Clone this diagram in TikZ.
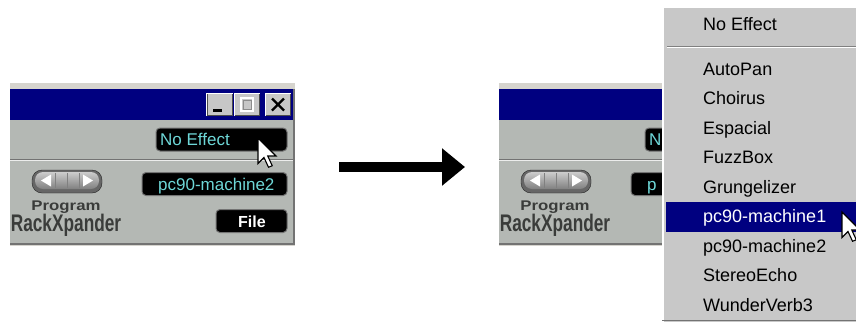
\documentclass[tikz,border=0pt]{standalone}
\usepackage{fontspec}
\usepackage{graphicx}
\setmainfont{Liberation Sans}
\usetikzlibrary{arrows.meta,positioning}

\definecolor{titleblue}{RGB}{0,0,128}
\definecolor{panelgray}{RGB}{180,184,180}
\definecolor{framegray}{RGB}{214,212,206}
\definecolor{menugray}{RGB}{200,200,200}
\definecolor{lcdcyan}{RGB}{110,215,215}
\definecolor{labelgray}{RGB}{58,60,58}

\tikzset{
  mousecursor/.pic={\draw[fill=white,line width=1.1pt,line join=miter,scale=1.5]
    (0,0) -- (0,17) -- (4,13) -- (7,19.5) -- (9.5,18.5) -- (6.5,12) -- (12,12) -- cycle;}
}

\begin{document}
\begin{tikzpicture}[x=1pt,y=-1pt,
  display/.style={fill=black, draw=black!55, line width=1pt, rounded corners=4pt,
    inner sep=0pt, minimum height=23pt},
  lcdtext/.style={anchor=base west, inner sep=0pt, text=lcdcyan,
    font=\fontsize{17}{19}\selectfont},
  winbtn/.style={fill=black!22, draw=black!70, line width=1pt, inner sep=0pt,
    minimum width=25pt, minimum height=22pt},
  panellabel/.style={anchor=base, inner sep=0pt, text=labelgray},
  menuitem/.style={anchor=base west, inner sep=0pt, font=\fontsize{18}{20}\selectfont},
  bigarrow/.style={line width=10pt, -{Triangle[length=23pt,width=36pt]}}
  ]
  \useasboundingbox (0,0) rectangle (856,322);

  % the rack window, before and after (the menu hides the right part of the second)
  \foreach \dx/\p/\eff/\patch/\file in {0/l/No Effect/pc90-machine2/File,489/r/N/p/{}}{
  \begin{scope}[xshift=\dx]
    \fill[framegray] (10,83) rectangle (295,246);
    \fill[titleblue] (10,89) rectangle (293,120);
    \fill[panelgray] (10,120) rectangle (293,243);
    \draw[black!55] (10,159) -- (293,159);
    \draw[white!75!panelgray] (10,160.5) -- (293,160.5);
    \draw[black!55,line width=1.5pt] (10,244) -- (294,244) -- (294,89);

    \node[winbtn] (\p-min) at (219.5,104.5) {};
    \node[winbtn] (\p-max) at (247,104.5) {};
    \node[winbtn] (\p-close) at (278,104.5) {};
    \foreach \b in {min,max,close}
      \draw[white] (\p-\b.south west) |- (\p-\b.north east);
    \fill (213,109) rectangle (222,112);
    \draw[white,line width=1.5pt] (241,98) rectangle (253,111);
    \draw[black!45] (243,100) rectangle (251,109);
    \draw[line width=2.2pt] (272,98.5) -- (284,110.5) (272,110.5) -- (284,98.5);

    \node[display, minimum width=131pt] (\p-noeff) at (221.5,139.5) {};
    \node[display, minimum width=145pt] (\p-patch) at (214.5,184) {};
    \node[display, minimum width=71pt] (\p-file) at (251.5,221) {};
    \node[lcdtext] (\p-efftxt) at (160,145) {\eff};
    \node[lcdtext] (\p-patchtxt) at (158,190) {\patch};
    \node[lcdtext, anchor=base, text=white, font=\fontsize{16}{18}\bfseries]
      (\p-filetxt) at (252,227) {\file};

    % program selector
    \draw[black!85,fill=black!60,rounded corners=10pt] (32,170) rectangle (102,193);
    \shade[top color=black!20,middle color=white,bottom color=black!50,rounded corners=8pt]
      (35,172) rectangle (99,189);
    \fill[white] (41,180.5) -- (51,174.5) -- (51,186.5) -- cycle;
    \fill[white] (93,180.5) -- (83,174.5) -- (83,186.5) -- cycle;
    \draw[black!50] (55,173) -- (55,188) (67,173) -- (67,188) (79,173) -- (79,188);
    \node[panellabel] (\p-prog) at (66,210.5)
      {\scalebox{1.2}[1]{\fontsize{14}{16}\bfseries Program}};
    \node[panellabel] (\p-rack) at (66,231)
      {\scalebox{0.72}[1]{\fontsize{24}{26}\bfseries RackXpander}};
  \end{scope}
  }
  \pic at (258,138) {mousecursor};

  \coordinate (arrfrom) at (339,167);
  \coordinate (arrto) at (465,167);
  \draw[bigarrow] (arrfrom) -- (arrto);

  % effect menu
  \fill[menugray] (662,7) rectangle (856,322);
  \draw[white,line width=1.5pt] (663,322) -- (663,7.5) -- (856,7.5);
  \draw[black!55] (662,320) -- (856,320);
  \draw[black!50] (667,46) -- (856,46);
  \draw[white] (667,47.5) -- (856,47.5);
  \fill[titleblue] (666,202) rectangle (856,232);
  \node[menuitem] (m0) at (703,30) {No Effect};
  \foreach \t/\c [count=\i] in {AutoPan/black,Choirus/black,Espacial/black,
      FuzzBox/black,Grungelizer/black,pc90-machine1/white,pc90-machine2/black,
      StereoEcho/black,WunderVerb3/black}
    \node[menuitem,text=\c] (m\i) at (703,{75+29.5*(\i-1)}) {\t};
  \pic at (842,212) {mousecursor};
\end{tikzpicture}
\end{document}
